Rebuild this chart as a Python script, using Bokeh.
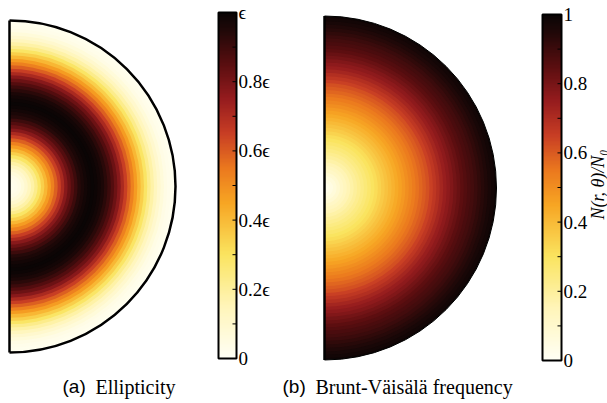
import numpy as np
from bokeh.plotting import figure
from bokeh.models import Range1d, LinearColorMapper, ColumnDataSource
from bokeh.transform import linear_cmap
from bokeh.core.properties import value
from bokeh.embed import file_html
from bokeh.resources import INLINE

# ---------------- data ----------------
# normalised radius samples (0 = centre, 1 = surface)
radius = [0.00, 0.02, 0.04, 0.06, 0.08, 0.10, 0.12, 0.14, 0.16, 0.18,
          0.20, 0.22, 0.24, 0.26, 0.28, 0.30, 0.32, 0.34, 0.36, 0.38,
          0.40, 0.42, 0.44, 0.46, 0.48, 0.50, 0.52, 0.54, 0.56, 0.58,
          0.60, 0.62, 0.64, 0.66, 0.68, 0.70, 0.72, 0.74, 0.76, 0.78,
          0.80, 0.82, 0.84, 0.86, 0.88, 0.90, 0.92, 0.94, 0.96, 0.98, 1.00]
# (a) ellipticity / epsilon read along the equator
ellipticity = [0.02, 0.02, 0.03, 0.04, 0.07, 0.10, 0.14, 0.18, 0.23, 0.29,
               0.35, 0.41, 0.47, 0.53, 0.59, 0.65, 0.71, 0.77, 0.82, 0.86,
               0.90, 0.94, 0.96, 0.98, 0.99, 1.00, 0.99, 0.98, 0.96, 0.93,
               0.90, 0.86, 0.82, 0.77, 0.71, 0.65, 0.59, 0.53, 0.47, 0.41,
               0.35, 0.29, 0.23, 0.18, 0.14, 0.10, 0.07, 0.04, 0.03, 0.02, 0.01]
# (b) Brunt-Vaisala frequency N/N0 read along the equator
brunt = [0.02, 0.03, 0.05, 0.07, 0.09, 0.12, 0.14, 0.16, 0.18, 0.20,
         0.22, 0.24, 0.26, 0.28, 0.30, 0.32, 0.34, 0.36, 0.38, 0.40,
         0.42, 0.44, 0.46, 0.48, 0.50, 0.52, 0.54, 0.56, 0.58, 0.60,
         0.62, 0.645, 0.67, 0.695, 0.72, 0.745, 0.765, 0.785, 0.805, 0.825,
         0.845, 0.86, 0.875, 0.89, 0.905, 0.92, 0.935, 0.95, 0.965, 0.98, 0.99]

cbar_ticks = [0.0, 0.2, 0.4, 0.6, 0.8, 1.0]
cbar_minor = [0.1, 0.3, 0.5, 0.7, 0.9]
labels_a = ["0", "0.2\u03f5", "0.4\u03f5", "0.6\u03f5", "0.8\u03f5", "\u03f5"]
labels_b = ["0", "0.2", "0.4", "0.6", "0.8", "1"]

# ---------------- colour map (white -> yellow -> orange -> red -> black) ----------------
anchors = [(0.00, (255, 255, 245)), (0.15, (255, 245, 185)), (0.30, (250, 228, 95)),
           (0.45, (247, 165, 35)), (0.55, (235, 120, 30)), (0.65, (200, 62, 36)),
           (0.75, (150, 28, 30)), (0.85, (90, 14, 16)), (0.95, (32, 8, 8)), (1.00, (10, 5, 5))]
palette = []
for i in range(256):
    t = i / 255
    for (t0, c0), (t1, c1) in zip(anchors[:-1], anchors[1:]):
        if t0 <= t <= t1:
            f = (t - t0) / (t1 - t0)
            c = [int(round(a + (b - a) * f)) for a, b in zip(c0, c1)]
            palette.append("#%02x%02x%02x" % tuple(c))
            break

H = 403
p = figure(width=607, height=403, x_range=Range1d(0, 607), y_range=Range1d(0, H),
           output_backend="svg", toolbar_location=None, min_border=0)
p.axis.visible = False
p.grid.visible = False
p.outline_line_color = None
p.background_fill_color = "white"


def disc(cx, cy_pix, R, vals, outline_w):
    cy = H - cy_pix
    r = np.array(radius)
    step = 0.01
    outer = np.minimum(r + step, 1.0) * R
    order = np.argsort(-outer)
    src = ColumnDataSource(dict(x=[cx] * len(r), y=[cy] * len(r),
                                rad=list(outer[order]), v=list(np.array(vals)[order])))
    p.wedge(x="x", y="y", radius="rad", start_angle=-np.pi / 2, end_angle=np.pi / 2,
            source=src, fill_color=linear_cmap("v", palette, 0, 1),
            line_color=None)
    p.arc(x=cx, y=cy, radius=R, start_angle=-np.pi / 2, end_angle=np.pi / 2,
          line_color="black", line_width=outline_w)
    p.segment(x0=cx, y0=cy - R, x1=cx, y1=cy + R, line_color="black", line_width=2.5)


disc(9, 186, 166, ellipticity, 2.5)
disc(324, 187.5, 172, brunt, 1.0)


def colorbar(x0, x1, top_pix, bot_pix, labels, lab_x):
    yb = H - bot_pix
    yt = H - top_pix
    mapper = LinearColorMapper(palette=palette, low=0, high=1)
    grad = np.linspace(0, 1, 256).reshape(256, 1)
    p.image(image=[grad], x=x0, y=yb, dw=x1 - x0, dh=yt - yb, color_mapper=mapper)
    p.quad(left=x0, right=x1, bottom=yb, top=yt, fill_color=None,
           line_color="black", line_width=2)
    ticks = cbar_ticks + cbar_minor
    ys = [yb + t * (yt - yb) for t in ticks]
    p.segment(x0=[x1 - 4] * len(ys), y0=ys, x1=[x1] * len(ys), y1=ys,
              line_color="black", line_width=1)
    ly = [yb + t * (yt - yb) for t in cbar_ticks]
    p.text(x=[lab_x] * len(ly), y=ly, text=labels, text_font=value("Liberation Serif"),
           text_font_size="19px", text_baseline="middle", text_align="left",
           text_color="black")


colorbar(218, 236, 12, 358, labels_a, 238)
colorbar(542, 561, 14, 360, labels_b, 563)

p.text(x=[597], y=[H - 184], text=["N(r, \u03b8)/N\u2080"], angle=np.pi / 2,
       text_font=value("Liberation Serif"), text_font_style="italic",
       text_font_size="18px", text_baseline="middle", text_align="center", text_color="black")

# captions
p.text(x=[62, 282], y=[H - 386, H - 386], text=["(a)", "(b)"],
       text_font=value("Liberation Sans"), text_font_size="19px",
       text_baseline="middle", text_align="left", text_color="black")
p.text(x=[95, 315], y=[H - 386, H - 386], text=["Ellipticity", "Brunt-V\u00e4is\u00e4l\u00e4 frequency"],
       text_font=value("Liberation Serif"), text_font_size="20px",
       text_baseline="middle", text_align="left", text_color="black")

open("out.html", "w").write(file_html(p, INLINE))
